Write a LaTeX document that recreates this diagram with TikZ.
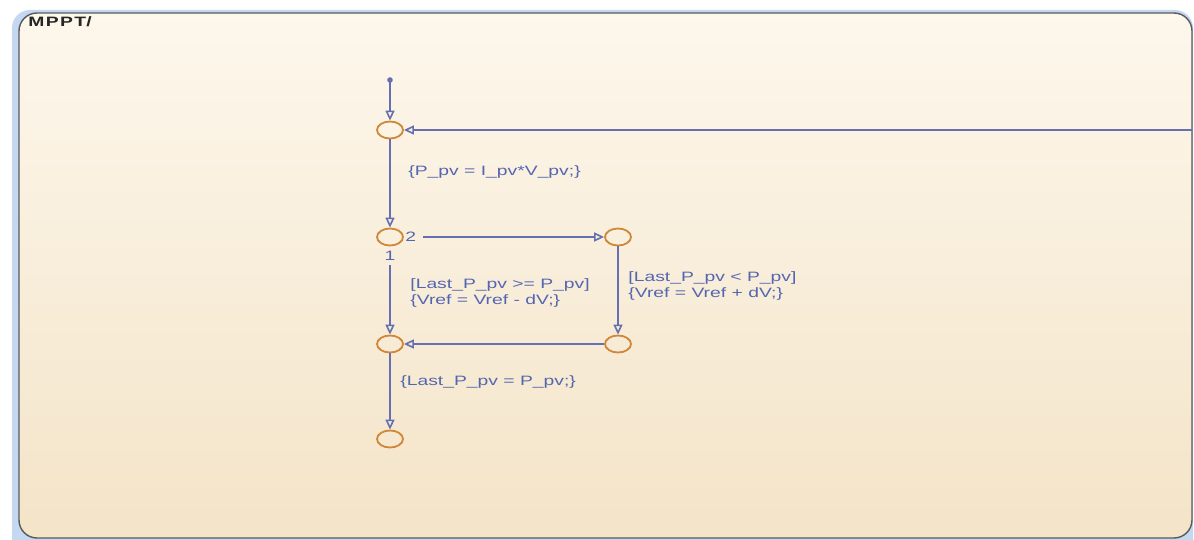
\documentclass[tikz,border=0pt]{standalone}
\usepackage{fontspec}
\setmainfont{Liberation Sans}
\usetikzlibrary{arrows.meta,shapes.geometric}
\definecolor{linec}{HTML}{6670B0}
\definecolor{txtc}{HTML}{5566B0}
\definecolor{junc}{HTML}{D08838}
\definecolor{topc}{HTML}{FDF7EC}
\definecolor{botc}{HTML}{F4E4C8}
\definecolor{bluec}{HTML}{C4D8F2}
\newcommand\sx[1]{\scalebox{1.42}[1]{#1}}
\tikzset{
  junction/.style={ellipse,draw=junc,line width=0.9pt,minimum width=13pt,minimum height=8.5pt,inner sep=0pt},
  trans/.style={draw=linec,line width=0.8pt,-{Triangle[open,length=5pt,width=4.5pt]}},
  lab/.style={text=txtc,font=\fontsize{6.8}{8}\selectfont,inner sep=0pt,anchor=west,align=left},
}
\begin{document}
\begin{tikzpicture}[x=0.5pt,y=-0.5pt]
\useasboundingbox (0,0) rectangle (1194,540);
\fill[white] (0,0) rectangle (1194,540);
\fill[bluec,rounded corners=9pt] (12,10) rectangle (1193,600);
\shade[top color=topc,bottom color=botc,draw=black!65,line width=0.7pt,rounded corners=9pt] (19,13) rectangle (1192,538);
\node[anchor=west,inner sep=0pt,text=black!85,font=\fontsize{6.8}{8}\selectfont\bfseries] (title) at (28,22) {\sx{M\kern0.5pt P\kern0.5pt P\kern0.5pt T/}};
% junctions
\node[junction] (j1) at (390,130) {};
\node[junction] (j2) at (390,237) {};
\node[junction] (j3) at (618,237) {};
\node[junction] (j4) at (618,344) {};
\node[junction] (j5) at (390,344) {};
\node[junction] (j6) at (390,439) {};
\fill[linec] (390,80) circle (1.4pt);
\coordinate (dot) at (390,80);
\coordinate (redge) at (1192,130);
% labels
\node[lab] (l2) at (405,237) {\sx{2}};
\node[lab,anchor=center] (l1) at (390,256) {\sx{1}};
\node[lab] (a1) at (408,172) {\sx{\{P\_pv = I\_pv*V\_pv;\}}};
\node[lab] (a2) at (410,293) {\sx{[Last\_P\_pv >= P\_pv]}\\\sx{\{Vref = Vref - dV;\}}};
\node[lab] (a3) at (628,286) {\sx{[Last\_P\_pv < P\_pv]}\\\sx{\{Vref = Vref + dV;\}}};
\node[lab] (a4) at (400,382) {\sx{\{Last\_P\_pv = P\_pv;\}}};
% transitions
\draw[trans] (dot) -- (j1);
\draw[trans] (redge) -- (j1);
\draw[trans] (j1) -- (j2);
\draw[trans] ([xshift=3pt]l2.east) -- (j3);
\draw[trans] ([yshift=-2pt]l1.south) -- (j5);
\draw[trans] (j3) -- (j4);
\draw[trans] (j4) -- (j5);
\draw[trans] (j5) -- (j6);
\end{tikzpicture}
\end{document}
